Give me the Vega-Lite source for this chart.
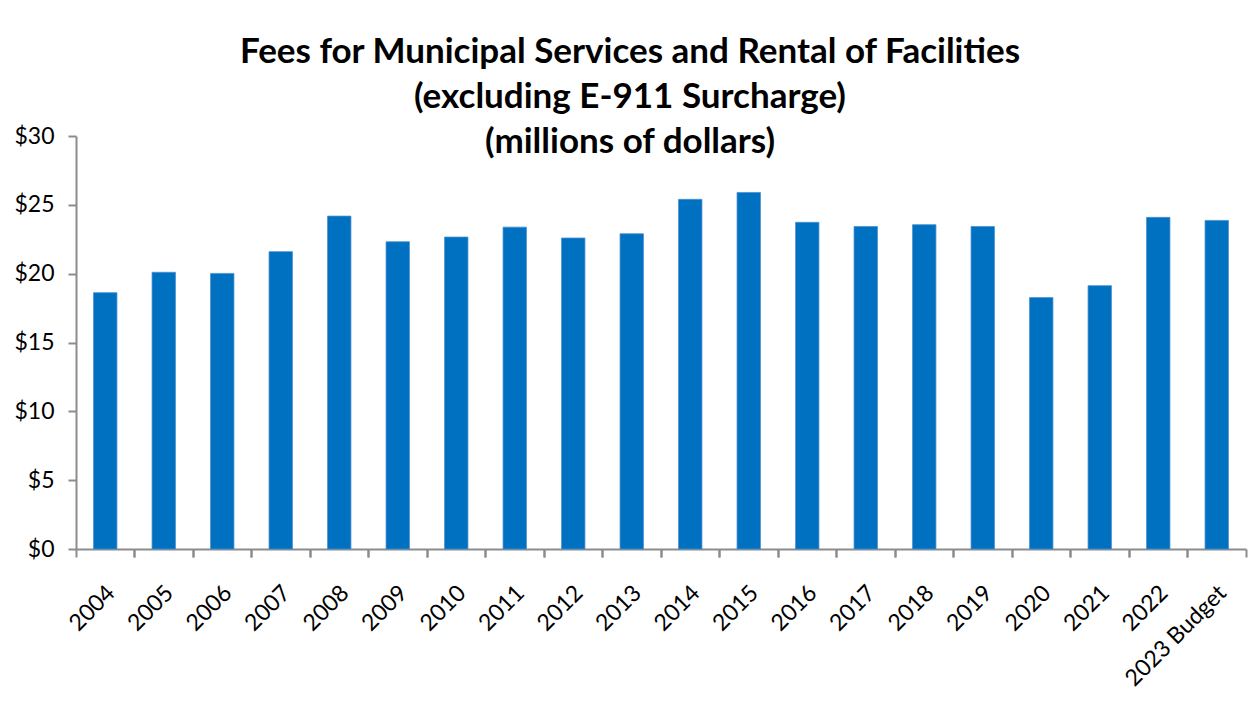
{
  "$schema": "https://vega.github.io/schema/vega-lite/v6.json",
  "width": 1170,
  "height": 413,
  "autosize": {"type": "none"},
  "padding": {"left": 76, "top": 136, "right": 6, "bottom": 162},
  "background": "white",
  "config": {"view": {"stroke": null}},
  "title": {
    "text": ["Fees for Municipal Services and Rental of Facilities", "(excluding E-911 Surcharge)", "(millions of dollars)"],
    "font": "Lato",
    "fontSize": 35,
    "fontWeight": "bold",
    "color": "black",
    "lineHeight": 45,
    "anchor": "middle",
    "frame": "group",
    "dx": -31,
    "offset": -35
  },
  "data": {
    "values": [
      {"year": "2004", "value": 18.62},
      {"year": "2005", "value": 20.10},
      {"year": "2006", "value": 20.02},
      {"year": "2007", "value": 21.60},
      {"year": "2008", "value": 24.18},
      {"year": "2009", "value": 22.32},
      {"year": "2010", "value": 22.66},
      {"year": "2011", "value": 23.38},
      {"year": "2012", "value": 22.59},
      {"year": "2013", "value": 22.90},
      {"year": "2014", "value": 25.40},
      {"year": "2015", "value": 25.90},
      {"year": "2016", "value": 23.73},
      {"year": "2017", "value": 23.43},
      {"year": "2018", "value": 23.56},
      {"year": "2019", "value": 23.43},
      {"year": "2020", "value": 18.26},
      {"year": "2021", "value": 19.13},
      {"year": "2022", "value": 24.09},
      {"year": "2023 Budget", "value": 23.87}
    ]
  },
  "resolve": {"axis": {"x": "independent"}},
  "layer": [
    {
      "mark": {"type": "bar", "color": "#0070C0", "stroke": "#4A8FD0", "strokeWidth": 0.8},
      "encoding": {
        "x": {
          "field": "year",
          "type": "nominal",
          "sort": null,
          "scale": {"paddingInner": 0.6, "paddingOuter": 0.3},
          "axis": {
            "orient": "bottom",
            "title": null,
            "domain": false,
            "ticks": false,
            "labelAngle": -45,
            "labelAlign": "right",
            "labelBaseline": "middle",
            "labelPadding": 40,
            "labelOffset": 6,
            "labelFont": "Lato",
            "labelFontSize": 23,
            "labelColor": "black"
          }
        },
        "y": {
          "field": "value",
          "type": "quantitative",
          "scale": {"domain": [0, 30]},
          "axis": {
            "title": null,
            "grid": false,
            "values": [0, 5, 10, 15, 20, 25, 30],
            "labelExpr": "'$' + datum.value",
            "labelFont": "Lato",
            "labelFontSize": 23,
            "labelColor": "black",
            "labelPadding": 14,
            "domainColor": "#8c8c8c",
            "domainWidth": 2,
            "tickColor": "#8c8c8c",
            "tickWidth": 2,
            "tickSize": 8
          }
        }
      }
    },
    {
      "mark": {"type": "bar", "opacity": 0},
      "encoding": {
        "x": {
          "field": "year",
          "type": "nominal",
          "sort": null,
          "axis": {
            "orient": "bottom",
            "title": null,
            "labels": false,
            "bandPosition": -0.75,
            "domainColor": "#8c8c8c",
            "domainWidth": 2,
            "tickColor": "#8c8c8c",
            "tickWidth": 2,
            "tickSize": 8
          }
        }
      }
    },
    {
      "mark": {"type": "bar", "opacity": 0},
      "encoding": {
        "x": {
          "field": "year",
          "type": "nominal",
          "sort": null,
          "axis": {
            "orient": "bottom",
            "title": null,
            "labels": false,
            "domain": false,
            "bandPosition": 1.75,
            "tickColor": "#8c8c8c",
            "tickWidth": 2,
            "tickSize": 8
          }
        }
      }
    }
  ]
}
